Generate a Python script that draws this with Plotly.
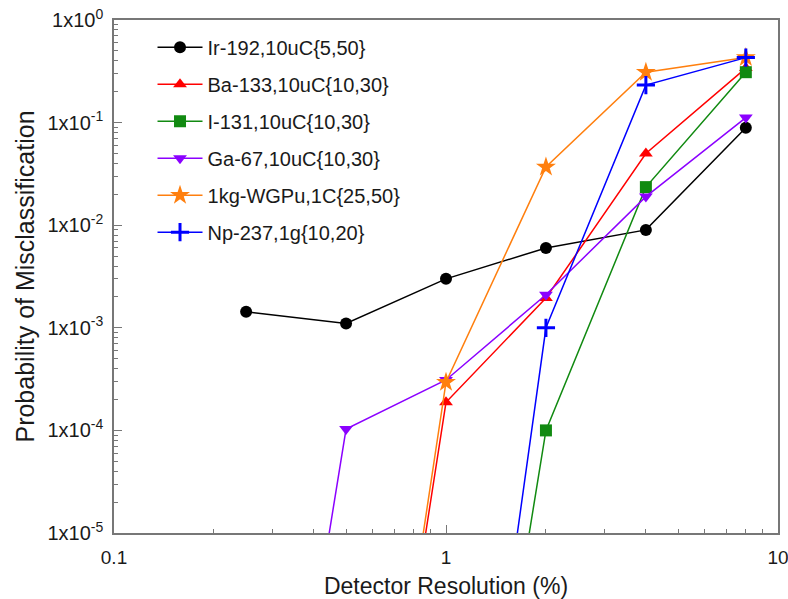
import plotly.graph_objects as go

# Detector resolution (%) at which each source was evaluated
resolution = [0.25, 0.5, 1, 2, 4, 8]

# Zero misclassification entries are stored at this floor so they sit below the log axis
ZERO = 1e-10

ir192 = [1.43e-3, 1.1e-3, 3.0e-3, 6.0e-3, 9.0e-3, 0.089]
ba133 = [ZERO, ZERO, 1.88e-4, 1.95e-3, 0.050, 0.34]
i131 = [ZERO, ZERO, ZERO, 1.0e-4, 0.0235, 0.31]
ga67 = [ZERO, 1.03e-4, 3.1e-4, 2.1e-3, 0.019, 0.112]
wgpu = [ZERO, ZERO, 2.95e-4, 0.037, 0.31, 0.43]
np237 = [ZERO, ZERO, ZERO, 1.0e-3, 0.232, 0.43]

series = [
    ("Ir-192,10uC{5,50}", ir192, "#000000", "circle"),
    ("Ba-133,10uC{10,30}", ba133, "#ff0000", "triangle-up"),
    ("I-131,10uC{10,30}", i131, "#118a11", "square"),
    ("Ga-67,10uC{10,30}", ga67, "#8b00ff", "triangle-down"),
    ("1kg-WGPu,1C{25,50}", wgpu, "#ff7f0e", "star"),
    ("Np-237,1g{10,20}", np237, "#0000ff", "cross-thin"),
]

y_ticks = [1e-5, 1e-4, 1e-3, 1e-2, 1e-1, 1]
y_ticktext = ["1x10<sup>-5</sup>", "1x10<sup>-4</sup>", "1x10<sup>-3</sup>",
              "1x10<sup>-2</sup>", "1x10<sup>-1</sup>", "1x10<sup>0</sup>"]
x_ticks = [0.1, 1, 10]
x_ticktext = ["0.1", "1", "10"]

FONT = "Liberation Sans, Arial, Helvetica, sans-serif"
TEXT = "#1a1a1a"

fig = go.Figure()
for i, (name, vals, color, sym) in enumerate(series):
    marker = dict(symbol=sym, size=12, color=color)
    if sym == "cross-thin":
        marker = dict(symbol=sym, size=13, color=color,
                      line=dict(color=color, width=3))
    elif sym == "star":
        marker["size"] = 15
    fig.add_trace(go.Scatter(
        x=resolution, y=vals, name=name, mode="lines+markers",
        line=dict(color=color, width=1.5), marker=marker,
        legendgroup=f"g{i}", cliponaxis=True,
    ))


def minor_vals(lo, hi):
    vals = []
    for e in range(lo, hi):
        for d in range(2, 10):
            vals.append(d * 10 ** e)
    return vals


axis_common = dict(
    type="log", showgrid=False, zeroline=False, automargin=False,
    showline=True, linecolor="#777777", linewidth=1.5, mirror=True,
    ticks="inside", ticklen=8, tickcolor="#777777", tickwidth=1,
    ticklabeloverflow="allow",
)

fig.update_xaxes(
    **axis_common, range=[-1, 1], tickmode="array",
    tickvals=x_ticks, ticktext=x_ticktext, ticklabelstandoff=6,
    tickfont=dict(family=FONT, size=19, color=TEXT),
    minor=dict(tickmode="array", tickvals=minor_vals(-1, 1), ticks="inside",
               ticklen=4, tickcolor="#777777"),
    title=dict(text="Detector Resolution (%)",
               font=dict(family=FONT, size=23, color=TEXT), standoff=12),
)
fig.update_yaxes(
    **axis_common, range=[-5, 0], tickmode="array",
    tickvals=y_ticks, ticktext=y_ticktext, ticklabelstandoff=5,
    tickfont=dict(family=FONT, size=20, color=TEXT),
    minor=dict(tickmode="array", tickvals=minor_vals(-5, 0), ticks="inside",
               ticklen=4, tickcolor="#777777"),
    title=dict(text="Probability of Misclassification",
               font=dict(family=FONT, size=25, color=TEXT), standoff=6),
)

fig.update_layout(
    width=788, height=599,
    margin=dict(l=114, r=10, t=20, b=66),
    plot_bgcolor="white", paper_bgcolor="white",
    showlegend=True,
    legend=dict(
        x=0.058, y=0.985, xanchor="left", yanchor="top",
        bgcolor="rgba(255,255,255,0)", borderwidth=0,
        font=dict(family=FONT, size=20, color=TEXT),
        traceorder="grouped", tracegroupgap=8,
        itemwidth=45,
    ),
)

fig.write_html("out.html")
